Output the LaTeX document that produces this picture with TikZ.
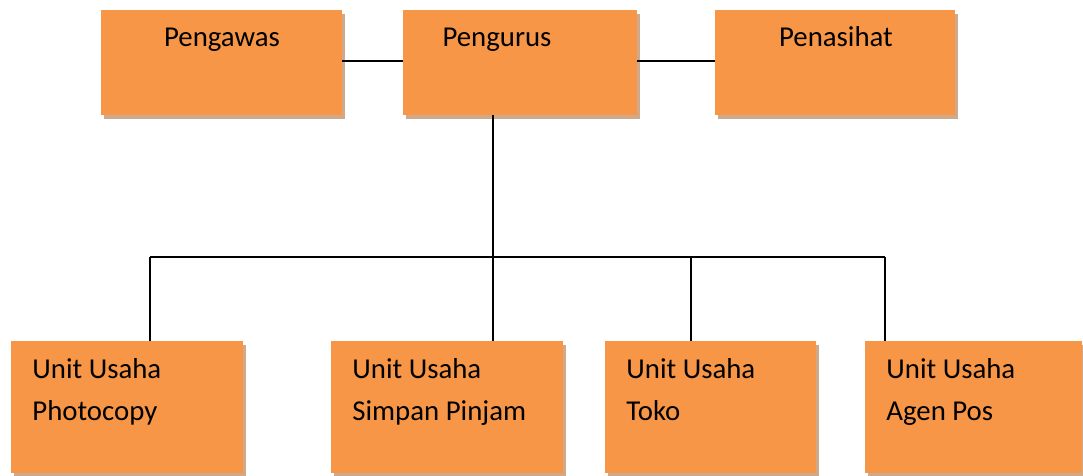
\documentclass[tikz,border=0pt]{standalone}
\usepackage{fontspec}
\setmainfont{Carlito}
\usetikzlibrary{fit,shadows}
\definecolor{boxorange}{HTML}{F79646}
\definecolor{boxshadow}{HTML}{CFA98A}
\begin{document}
\begin{tikzpicture}[x=0.5pt,y=-0.5pt,
  box/.style={fill=boxorange, draw=none, inner sep=0pt,
    drop shadow={shadow xshift=1.6pt, shadow yshift=-1.8pt, fill=boxshadow, opacity=1}},
  conn/.style={line width=1pt, black},
  lbl/.style={inner sep=0pt, font=\fontsize{14.4}{17}\selectfont}]
\useasboundingbox (0,0) rectangle (1083,476);
% corner coordinates
\path (101,10) coordinate (a1) (342,115) coordinate (a2)
      (403,10) coordinate (b1) (637,115) coordinate (b2)
      (715,10) coordinate (c1) (955,115) coordinate (c2)
      (11,341) coordinate (d1) (243,473) coordinate (d2)
      (331,341) coordinate (e1) (563,473) coordinate (e2)
      (605,341) coordinate (f1) (816,473) coordinate (f2)
      (865,341) coordinate (g1) (1082,473) coordinate (g2);
% boxes
\node[box, fit=(a1)(a2)] (pengawas) {};
\node[box, fit=(b1)(b2)] (pengurus) {};
\node[box, fit=(c1)(c2)] (penasihat) {};
\node[box, fit=(d1)(d2)] (photocopy) {};
\node[box, fit=(e1)(e2)] (simpan) {};
\node[box, fit=(f1)(f2)] (toko) {};
\node[box, fit=(g1)(g2)] (agen) {};
% texts
\node[lbl, anchor=base] (tpengawas) at (222,47) {Pengawas};
\node[lbl, anchor=base] (tpengurus) at (497,47) {Pengurus};
\node[lbl, anchor=base] (tpenasihat) at (836,47) {Penasihat};
\node[lbl, anchor=base west] (tphoto1) at (32,378) {Unit Usaha};
\node[lbl, anchor=base west] (tphoto2) at (32,420) {Photocopy};
\node[lbl, anchor=base west] (tsimpan1) at (352,378) {Unit Usaha};
\node[lbl, anchor=base west] (tsimpan2) at (352,420) {Simpan Pinjam};
\node[lbl, anchor=base west] (ttoko1) at (626,378) {Unit Usaha};
\node[lbl, anchor=base west] (ttoko2) at (626,420) {Toko};
\node[lbl, anchor=base west] (tagen1) at (886,378) {Unit Usaha};
\node[lbl, anchor=base west] (tagen2) at (886,420) {Agen Pos};
% connector coordinates
\coordinate (row) at (0,61);
\coordinate (j) at (493,257);
\coordinate (bl) at (150,257);
\coordinate (bm) at (691,257);
\coordinate (br) at (885,257);
% connectors
\draw[conn] (pengawas.east |- row) -- (pengurus.west |- row);
\draw[conn] (pengurus.east |- row) -- (penasihat.west |- row);
\draw[conn] (j |- pengurus.south) -- (j);
\draw[conn] (bl) -- (br);
\draw[conn] (bl) -- (bl |- photocopy.north);
\draw[conn] (j) -- (j |- simpan.north);
\draw[conn] (bm) -- (bm |- toko.north);
\draw[conn] (br) -- (br |- agen.north);
\end{tikzpicture}
\end{document}
